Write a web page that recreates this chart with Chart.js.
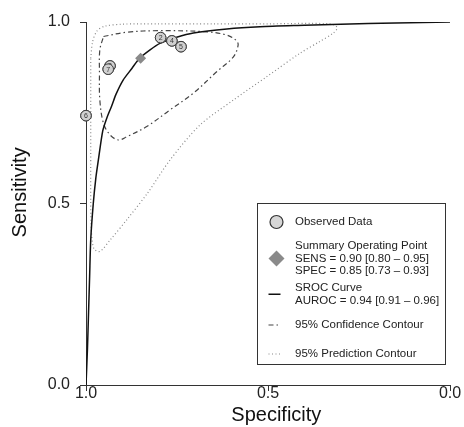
<!DOCTYPE html>
<html>
<head>
<meta charset="utf-8">
<script src="https://cdn.jsdelivr.net/npm/chart.js@4.4.1/dist/chart.umd.min.js"></script>
<style>
  body { margin: 0; background: #fff; }
  #wrap { width: 464px; height: 427px; }
</style>
</head>
<body>
<div id="wrap"><canvas id="chart_sroc"></canvas></div>
<script>
// observed studies (specificity, sensitivity), drawn in this order
var studyLabels = ['6', '3', '7', '2', '4', '5'];
var studySpec = [1.0, 0.934, 0.939, 0.795, 0.764, 0.739];
var studySens = [0.742, 0.879, 0.870, 0.957, 0.948, 0.932];

// summary operating point
var summarySpec = [0.85];
var summarySens = [0.90];

// SROC curve
var srocSpec = [1.0, 0.996, 0.993, 0.990, 0.987, 0.980, 0.973, 0.966, 0.954, 0.943, 0.929, 0.918, 0.898, 0.874, 0.854, 0.824, 0.797, 0.751, 0.705, 0.613, 0.522, 0.400, 0.300, 0.150, 0.0];
var srocSens = [0.0, 0.100, 0.200, 0.300, 0.400, 0.500, 0.570, 0.620, 0.700, 0.735, 0.770, 0.800, 0.840, 0.872, 0.899, 0.923, 0.941, 0.958, 0.970, 0.981, 0.987, 0.991, 0.994, 0.997, 1.0];

// 95% confidence contour (closed)
var confSpec = [0.952, 0.888, 0.797, 0.668, 0.613, 0.588, 0.582, 0.595, 0.641, 0.705, 0.769, 0.833, 0.888, 0.911, 0.934, 0.952, 0.962, 0.963, 0.962, 0.952];
var confSens = [0.960, 0.972, 0.976, 0.973, 0.964, 0.950, 0.937, 0.904, 0.863, 0.804, 0.758, 0.712, 0.684, 0.675, 0.689, 0.721, 0.785, 0.859, 0.923, 0.960];

// 95% prediction contour (closed)
var predSpec = [0.987, 0.982, 0.970, 0.950, 0.900, 0.800, 0.650, 0.500, 0.330, 0.310, 0.320, 0.360, 0.412, 0.504, 0.595, 0.687, 0.769, 0.830, 0.888, 0.934, 0.962, 0.978, 0.985, 0.987, 0.987, 0.987, 0.987];
var predSens = [0.900, 0.945, 0.975, 0.988, 0.994, 0.995, 0.995, 0.995, 0.995, 0.985, 0.970, 0.945, 0.914, 0.849, 0.785, 0.716, 0.620, 0.530, 0.455, 0.399, 0.368, 0.375, 0.420, 0.510, 0.650, 0.780, 0.900];

var axisTicks = [0.0, 0.5, 1.0];

var legendItems = [
    { symbol: 'circle', lines: ['Observed Data'] },
    { symbol: 'diamond', lines: ['Summary Operating Point', 'SENS = 0.90 [0.80 \u2013 0.95]', 'SPEC = 0.85 [0.73 \u2013 0.93]'] },
    { symbol: 'solid', lines: ['SROC Curve', 'AUROC = 0.94 [0.91 \u2013 0.96]'] },
    { symbol: 'dashdot', lines: ['95% Confidence Contour'] },
    { symbol: 'dotted', lines: ['95% Prediction Contour'] }
];

function pts(xs, ys) {
    return xs.map(function(x, i) { return { x: x, y: ys[i] }; });
}

var FONT = "'Liberation Sans', Arial, Helvetica, sans-serif";
Chart.defaults.font.family = FONT;

var studyPlugin = {
    id: 'studyNumbers',
    afterDatasetDraw: function(chart, args) {
        if (args.index !== 0) return;
        var ctx = chart.ctx;
        var els = args.meta.data;
        ctx.save();
        ctx.font = '7px ' + FONT;
        ctx.textAlign = 'center';
        ctx.textBaseline = 'middle';
        // redraw in order so that later circles hide the numbers underneath
        for (var i = 0; i < els.length; i++) {
            els[i].draw(ctx);
            ctx.fillStyle = '#333';
            ctx.fillText(studyLabels[i], els[i].x, els[i].y + 0.5);
        }
        ctx.restore();
    }
};

var legendPlugin = {
    id: 'srocLegend',
    afterDraw: function(chart) {
        var ctx = chart.ctx;
        var a = chart.chartArea;
        var bx = a.right - 193, by = a.top + 181, bw = 188, bh = 161;
        var tops = [19, 43, 85, 122, 151];
        var lh = 12.5;
        ctx.save();
        ctx.strokeStyle = '#333';
        ctx.lineWidth = 1;
        ctx.strokeRect(bx + 0.5, by + 0.5, bw, bh);
        ctx.font = '11.5px ' + FONT;
        ctx.textBaseline = 'middle';
        ctx.textAlign = 'left';
        legendItems.forEach(function(item, k) {
            var ty = by + tops[k];
            var sy = ty + (item.lines.length - 1) * lh / 2;
            var sx = bx + 19.5;
            ctx.fillStyle = '#222';
            item.lines.forEach(function(t, j) {
                ctx.fillText(t, bx + 38, ty + j * lh);
            });
            ctx.beginPath();
            if (item.symbol === 'circle') {
                ctx.arc(sx, sy, 6.5, 0, Math.PI * 2);
                ctx.fillStyle = '#d6d6d6';
                ctx.fill();
                ctx.strokeStyle = '#333';
                ctx.lineWidth = 1.2;
                ctx.stroke();
            } else if (item.symbol === 'diamond') {
                ctx.moveTo(sx - 8, sy); ctx.lineTo(sx, sy - 8);
                ctx.lineTo(sx + 8, sy); ctx.lineTo(sx, sy + 8);
                ctx.closePath();
                ctx.fillStyle = '#8a8a8a';
                ctx.fill();
            } else {
                ctx.moveTo(sx - 8, sy); ctx.lineTo(sx + 4, sy);
                ctx.lineWidth = item.symbol === 'solid' ? 1.5 : 1.2;
                ctx.strokeStyle = item.symbol === 'dotted' ? '#888' : (item.symbol === 'solid' ? '#111' : '#444');
                ctx.setLineDash(item.symbol === 'dashdot' ? [5, 3, 1.5, 3] : (item.symbol === 'dotted' ? [1, 2.5] : []));
                ctx.stroke();
                ctx.setLineDash([]);
            }
        });
        ctx.restore();
    }
};

function axisGrid() {
    return { display: true, drawOnChartArea: false, drawTicks: true, tickLength: 6, color: '#333', lineWidth: 1 };
}

var chart_sroc = new Chart(document.getElementById('chart_sroc'), {
    type: 'scatter',
    data: {
        datasets: [
            {
                label: 'Observed Data',
                data: pts(studySpec, studySens),
                pointRadius: 5.3,
                backgroundColor: '#d0d0d0',
                borderColor: '#3c3c3c',
                borderWidth: 1,
                clip: false,
                order: 0
            },
            {
                label: 'Summary Operating Point',
                data: pts(summarySpec, summarySens),
                pointStyle: 'rectRot',
                pointRadius: 5.5,
                backgroundColor: '#8a8a8a',
                borderWidth: 0,
                order: 1
            },
            {
                label: 'SROC Curve',
                data: pts(srocSpec, srocSens),
                showLine: true,
                pointRadius: 0,
                borderColor: '#111',
                borderWidth: 1.5,
                tension: 0.25,
                order: 2
            },
            {
                label: '95% Confidence Contour',
                data: pts(confSpec, confSens),
                showLine: true,
                pointRadius: 0,
                borderColor: '#444',
                borderWidth: 1.2,
                borderDash: [5, 3, 1.5, 3],
                tension: 0.35,
                order: 3
            },
            {
                label: '95% Prediction Contour',
                data: pts(predSpec, predSens),
                showLine: true,
                pointRadius: 0,
                borderColor: '#888',
                borderWidth: 1.2,
                borderDash: [1, 2.5],
                tension: 0.3,
                order: 4
            }
        ]
    },
    options: {
        animation: false,
        responsive: true,
        maintainAspectRatio: false,
        events: [],
        layout: { padding: { top: 22, right: 14, left: 0, bottom: 0 } },
        plugins: {
            legend: { display: false },
            tooltip: { enabled: false }
        },
        scales: {
            x: {
                type: 'linear',
                min: 0,
                max: 1,
                reverse: true,
                afterBuildTicks: function(s) { s.ticks = axisTicks.map(function(v) { return { value: v }; }); },
                afterFit: function(s) { s.height = 42; },
                ticks: {
                    callback: function(v) { return v.toFixed(1); },
                    font: { size: 16, lineHeight: 1 },
                    color: '#222',
                    padding: -5,
                    maxRotation: 0
                },
                grid: axisGrid(),
                border: { display: true, color: '#333', width: 1 },
                title: {
                    display: true,
                    text: '   Specificity',
                    font: { size: 20 },
                    color: '#111',
                    padding: { top: 0, bottom: 0 }
                }
            },
            y: {
                type: 'linear',
                min: 0,
                max: 1,
                afterBuildTicks: function(s) { s.ticks = axisTicks.map(function(v) { return { value: v }; }); },
                afterFit: function(s) { s.width = 86; },
                ticks: {
                    callback: function(v) { return v.toFixed(1); },
                    font: { size: 16, lineHeight: 1 },
                    color: '#222',
                    padding: 10
                },
                grid: axisGrid(),
                border: { display: true, color: '#333', width: 1 },
                title: {
                    display: true,
                    text: '    Sensitivity',
                    font: { size: 20 },
                    color: '#111',
                    padding: { top: 8, bottom: 0 }
                }
            }
        }
    },
    plugins: [studyPlugin, legendPlugin]
});
</script>
</body>
</html>
